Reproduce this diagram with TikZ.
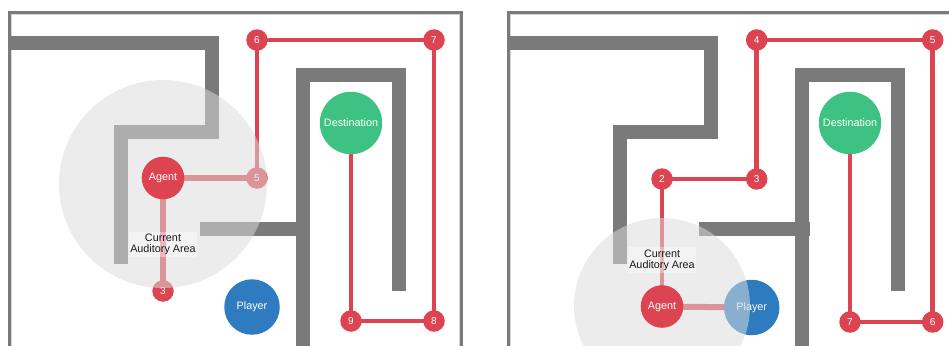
\documentclass[tikz,border=0pt]{standalone}
\usepackage{fontspec}
\setmainfont{Liberation Sans}
\definecolor{pathred}{RGB}{220,68,82}
\definecolor{destgreen}{RGB}{62,194,131}
\definecolor{playerblue}{RGB}{46,123,191}
\definecolor{wallgray}{RGB}{122,122,122}
\definecolor{framelight}{RGB}{212,212,212}
\definecolor{veilgray}{RGB}{220,220,220}
\definecolor{textdark}{RGB}{26,26,26}
\pgfdeclarelayer{walls}
\pgfdeclarelayer{edges}
\pgfdeclarelayer{veil}
\pgfdeclarelayer{front}
\pgfsetlayers{walls,edges,main,veil,front}
\tikzset{
  wall/.style={fill=wallgray, draw=none},
  framedark/.style={draw=wallgray, line width=2.7},
  frameinner/.style={draw=framelight, line width=1.3},
  pathline/.style={draw=pathred, line width=4.6},
  linkline/.style={draw=pathred, line width=6},
  wp/.style={circle, fill=pathred, minimum size=21.5, inner sep=0, text=white, font=\fontsize{10}{10}\selectfont},
  agentnode/.style={circle, fill=pathred, minimum size=42.6, inner sep=0, text=white, font=\fontsize{10.8}{11}\selectfont},
  destnode/.style={circle, fill=destgreen, minimum size=62.4, inner sep=0, text=white, font=\fontsize{10.8}{11}\selectfont},
  playernode/.style={circle, fill=playerblue, minimum size=55.5, inner sep=0, text=white, font=\fontsize{10.8}{11}\selectfont},
  hearing/.style={circle, fill=veilgray, fill opacity=0.53, draw=none, inner sep=0},
  arealabel/.style={fill=white, fill opacity=0.35, text opacity=1, text=textdark, align=center, inner xsep=1.5, inner ysep=2.5, font=\fontsize{10.8}{11}\selectfont}
}
\newcommand{\mazewalls}{%
  \draw[framedark] (9.5,350) -- (9.5,12.4) -- (461.3,12.4) -- (461.3,350);
  \draw[frameinner] (11.5,350) -- (11.5,14.4) -- (459.3,14.4) -- (459.3,350);
  \fill[wall] (11,36) rectangle (219,50);
  \fill[wall] (205,36) rectangle (219,138.7);
  \fill[wall] (114,125) rectangle (219,138.7);
  \fill[wall] (114,125) rectangle (128,263.7);
  \fill[wall] (296,68) rectangle (310,350);
  \fill[wall] (296,68) rectangle (406,82);
  \fill[wall] (392,68) rectangle (406,290.7);
}
\begin{document}
\begin{tikzpicture}[x=1pt,y=-1pt]
\useasboundingbox (0,0) rectangle (949,345);
% ---------------- walls ----------------
\begin{pgfonlayer}{walls}
  \mazewalls
  \fill[wall] (200,222) rectangle (310,236);
  \begin{scope}[shift={(499,0)}]
    \mazewalls
    \fill[wall] (200,222) rectangle (311,236);
  \end{scope}
\end{pgfonlayer}
% ---------------- left panel nodes ----------------
\node[wp] (L6) at (257,40) {6};
\node[wp] (L7) at (434,40) {7};
\node[wp] (L8) at (434,321) {8};
\node[wp] (L9) at (351,321) {9};
\node[wp] (L5) at (257,178) {5};
\node[wp] (L3) at (163,291) {3};
\node[destnode] (Ldest) at (351,123) {Destination};
\node[playernode] (Lplayer) at (252,307) {Player};
\begin{pgfonlayer}{veil}
  \node[hearing, minimum size=208] (Lhear) at (163,184) {};
\end{pgfonlayer}
\begin{pgfonlayer}{front}
  \node[agentnode] (Lagent) at (163,178) {Agent};
  \node[arealabel] (Llabel) at (163,244.5) {Current\\Auditory Area};
\end{pgfonlayer}
% ---------------- right panel nodes ----------------
\node[wp] (R2) at (662,179) {2};
\node[wp] (R3) at (756.7,179) {3};
\node[wp] (R4) at (756.7,40) {4};
\node[wp] (R5) at (932.7,40) {5};
\node[wp] (R6) at (932.7,322) {6};
\node[wp] (R7) at (850,322) {7};
\node[destnode] (Rdest) at (850,123) {Destination};
\node[playernode] (Rplayer) at (751.7,307.5) {Player};
\begin{pgfonlayer}{veil}
  \node[hearing, minimum size=176] (Rhear) at (662,306) {};
\end{pgfonlayer}
\begin{pgfonlayer}{front}
  \node[agentnode] (Ragent) at (662,306.5) {Agent};
  \node[arealabel] (Rlabel) at (662,260) {Current\\Auditory Area};
\end{pgfonlayer}
% ---------------- connectors ----------------
\begin{pgfonlayer}{edges}
  \draw[pathline] (L6.center) -- (L7.center) -- (L8.center) -- (L9.center) -- (Ldest.center);
  \draw[pathline] (L6.center) -- (L5.center);
  \draw[linkline] (Lagent.center) -- (L5.center);
  \draw[linkline] (Lagent.center) -- (L3.center);
  \draw[pathline] (R2.center) -- (R3.center) -- (R4.center) -- (R5.center) -- (R6.center) -- (R7.center) -- (Rdest.center);
  \draw[pathline] (R2.center) -- (Ragent.center);
  \draw[linkline] (Ragent.center) -- (Rplayer.center);
\end{pgfonlayer}
\end{tikzpicture}
\end{document}
